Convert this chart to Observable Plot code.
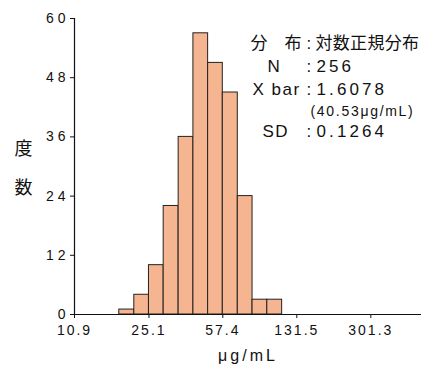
<!DOCTYPE html>
<html><head><meta charset="utf-8">
<script src="https://cdn.jsdelivr.net/npm/d3@7"></script>
<script src="https://cdn.jsdelivr.net/npm/@observablehq/plot@0.6"></script>
<style>
body{margin:0;background:#fff}
#chart svg{display:block}
</style></head><body><div id="chart"></div><script>
// ---- data ----
const binLower = [18.0, 21.3, 25.1, 29.6, 35.0, 41.3, 48.7, 57.4, 67.9, 80.1, 94.5];
const binUpper = [21.3, 25.1, 29.6, 35.0, 41.3, 48.7, 57.4, 67.9, 80.1, 94.5, 111.6];
const counts   = [1, 4, 10, 22, 36, 57, 51, 45, 24, 3, 3];
const xTicks = [10.9, 25.1, 57.4, 131.5, 301.3];
const yTicks = [0, 12, 24, 36, 48, 60];
const xLabel = "μg/mL";
const yLabelChars = ["度", "数"];
const statLabels = ["分　布", "N", "X bar", "SD"];
const statValues = ["対数正規分布", "256", "1.6078", "0.1264"];
const meanNote = "(40.53μg/mL)";

const bins = counts.map((c, i) => ({x1: binLower[i], x2: binUpper[i], count: c}));

const latin = "'Liberation Sans', Arial, 'Noto Sans CJK JP', sans-serif";
const statLeft = [176, 193, 178, 188];
const statDy = [25, 48.5, 71, 113.5];

const marks = [
  Plot.rectY(bins, {x1: "x1", x2: "x2", y: "count", fill: "#F5B590", stroke: "#222", strokeWidth: 1}),
  Plot.ruleY([0], {stroke: "#111", strokeWidth: 1.2}),
  Plot.ruleX([xTicks[0]], {stroke: "#111", strokeWidth: 1.2}),
  // y ticks + labels
  Plot.ruleY(yTicks, {y: d => d, insetLeft: -4, insetRight: 347, stroke: "#111"}),
  Plot.text(yTicks, {y: d => d, text: d => String(d), frameAnchor: "left", dx: -5, textAnchor: "end", lineAnchor: "middle", fontSize: 14}),
  // x ticks + labels
  Plot.ruleX(xTicks, {x: d => d, insetTop: 296, insetBottom: -4, stroke: "#111"}),
  Plot.text(xTicks, {x: d => d, text: d => String(d), frameAnchor: "bottom", dy: 16, textAnchor: "middle", lineAnchor: "middle", fontSize: 14}),
  Plot.text([xLabel], {frameAnchor: "bottom", dy: 41, lineAnchor: "middle", fontSize: 16}),
  ...yLabelChars.map((c, i) => Plot.text([c], {frameAnchor: "left", dx: -51, dy: i === 0 ? -17 : 22, lineAnchor: "middle", textAnchor: "middle", fontSize: 18, fontFamily: "'Noto Sans CJK JP', sans-serif"})),
  ...statLabels.map((s, i) => Plot.text([s], {frameAnchor: "top-left", dx: statLeft[i], dy: statDy[i], lineAnchor: "middle", textAnchor: "start", fontSize: 17})),
  ...statLabels.map((s, i) => Plot.text([":"], {frameAnchor: "top-left", dx: 232, dy: statDy[i], lineAnchor: "middle", textAnchor: "start", fontSize: 17})),
  ...statValues.map((s, i) => Plot.text([s], {frameAnchor: "top-left", dx: i === 0 ? 241 : 242, dy: statDy[i], lineAnchor: "middle", textAnchor: "start", fontSize: 17})),
  Plot.text([meanNote], {frameAnchor: "top-left", dx: 236, dy: 93, lineAnchor: "middle", textAnchor: "start", fontSize: 14})
];

const chart = Plot.plot({
  width: 421,
  height: 370,
  marginLeft: 74,
  marginRight: 0,
  marginTop: 18,
  marginBottom: 56,
  style: {fontFamily: latin, fontSize: "14px", color: "#111", background: "#fff"},
  x: {type: "log", domain: [10.9, 531.6], axis: null},
  y: {domain: [0, 60], axis: null},
  marks
});
document.getElementById("chart").appendChild(chart);

// letter spacing by text content
const ySet = new Set(yTicks.map(String));
const xSet = new Set(xTicks.map(String));
const labelSet = new Set(statLabels.slice(1));
const valueSet = new Set(statValues.slice(1));
d3.select(chart).selectAll("text").each(function() {
  const t = this.textContent;
  let ls = null;
  if (ySet.has(t)) ls = "4px";
  else if (xSet.has(t)) ls = "2px";
  else if (t === xLabel) ls = "3px";
  else if (labelSet.has(t)) ls = "1.5px";
  else if (valueSet.has(t)) ls = "3.1px";
  else if (t === statValues[0]) ls = "0.3px";
  else if (t === meanNote) ls = "1.7px";
  if (ls) d3.select(this).style("letter-spacing", ls);
});
</script></body></html>
